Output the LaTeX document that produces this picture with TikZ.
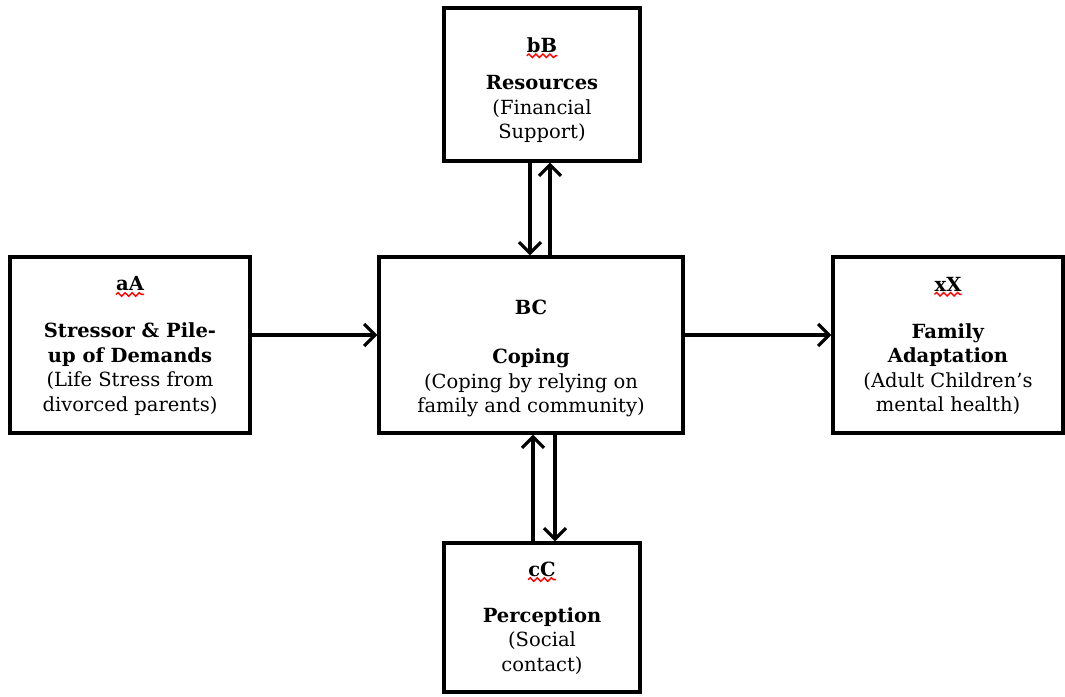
\documentclass[tikz,border=0pt]{standalone}
\usepackage{fontspec}
\setmainfont{DejaVu Serif}
\usetikzlibrary{positioning,arrows.meta,decorations.pathmorphing}

\begin{document}
\begin{tikzpicture}[x=1pt,y=-1pt]
		\useasboundingbox (0,0) rectangle (1065,696);
		\tikzset{
			box/.style={draw,line width=3.2pt,inner sep=0pt},
			txt/.style={align=center,inner sep=0pt,font=\fontsize{19.5}{24.5}\selectfont},
			lbl/.style={inner sep=0pt,font=\fontsize{19.5}{24.5}\selectfont\bfseries},
			squig/.style={red,line width=1.4pt,decorate,decoration={snake,amplitude=1.8pt,segment length=7pt}},
			arr/.style={line width=3.2pt,-{Straight Barb[length=11pt,width=22pt,line width=3.2pt]}}
		}

		% Boxes
		\node[box,minimum width=196,minimum height=153] (res) at (542,84.5) {};
		\node[box,minimum width=240,minimum height=176] (str) at (130,345) {};
		\node[box,minimum width=304,minimum height=176] (cop) at (531,345) {};
		\node[box,minimum width=230,minimum height=176] (ada) at (948,345) {};
		\node[box,minimum width=196,minimum height=149] (per) at (542,617.5) {};

		% Letters on top of each box
		\node[lbl] (resL) at (542,45) {bB};
		\node[lbl] (strL) at (130,284) {aA};
		\node[lbl] (copL) at (531,307) {BC};
		\node[lbl] (adaL) at (948,284) {xX};
		\node[lbl] (perL) at (542,569) {cC};

		\foreach \n in {resL,strL,adaL,perL}
			\draw[squig] ([yshift=-3pt]\n.south west) -- ([yshift=-3pt]\n.south east);

		% Texts
		\node[txt] (resT) at (542,109) {\textbf{Resources}\\(Financial\\Support)};
		\node[txt] (strT) at (130,369) {\textbf{Stressor \& Pile-}\\\textbf{up of Demands}\\(Life Stress from\\divorced parents)};
		\node[txt] (copT) at (531,383) {\textbf{Coping}\\(Coping by relying on\\family and community)};
		\node[txt] (adaT) at (948,369) {\textbf{Family}\\\textbf{Adaptation}\\(Adult Children’s\\mental health)};
		\node[txt] (perT) at (542,641) {\textbf{Perception}\\(Social\\contact)};

		% Arrows
		\draw[arr] ([yshift=10pt]str.east) -- ([yshift=10pt]str.east -| cop.west);
		\draw[arr] ([yshift=10pt]cop.east) -- ([yshift=10pt]cop.east -| ada.west);

		\draw[arr] ([xshift=-12pt]res.south) -- ([xshift=-12pt]res.south |- cop.north);
		\draw[arr] ([xshift=8pt]res.south |- cop.north) -- ([xshift=8pt]res.south);

		\draw[arr] ([xshift=-9pt]per.north) -- ([xshift=-9pt]per.north |- cop.south);
		\draw[arr] ([xshift=13pt]per.north |- cop.south) -- ([xshift=13pt]per.north);
\end{tikzpicture}
\end{document}
